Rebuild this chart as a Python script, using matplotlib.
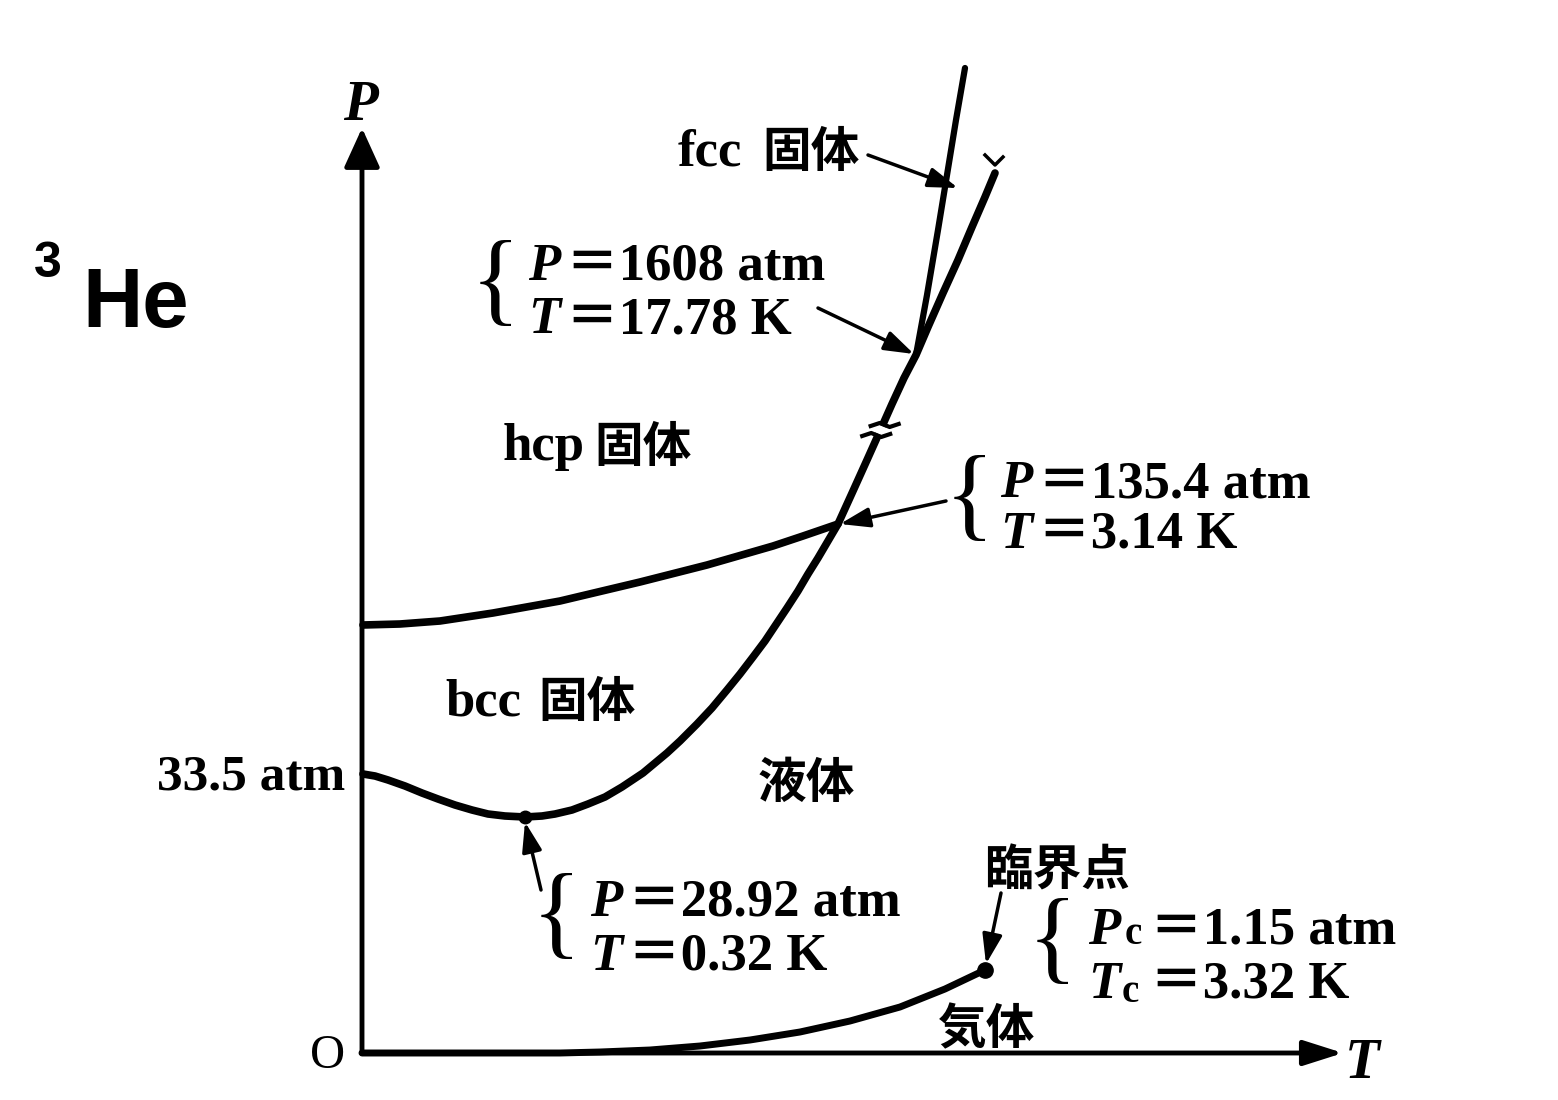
import numpy as np
import matplotlib
matplotlib.use('Agg')
import matplotlib.pyplot as plt

# ---- schematic frame (pixel origin of O, figure size) ----
X0, Y0 = 362, 1053
W, H = 1558, 1100

# ---- data (schematic units: T to the right, P upward, origin at O) ----
# melting curve: bcc/liquid -> hcp/liquid -> upper branch
melt_T = [1, 13, 26, 43, 60, 76, 93, 110, 126, 143, 163,
          180, 193, 210, 226, 243, 260, 281, 305, 318, 335, 350, 365, 378, 391, 403,
          415, 425, 436, 446, 456, 466, 476,
          491, 505, 518, 530, 542, 554, 566, 581, 596, 610, 623, 633]
melt_P = [279, 277, 273, 267, 260, 254, 248, 243, 239, 237, 236,
          237, 239, 243, 249, 256, 266, 280, 300, 312, 329, 345, 363, 379, 396, 412,
          430, 445, 462, 479, 495, 512, 529,
          562, 593, 622, 649, 675, 698, 726, 760, 793, 826, 856, 880]
# bcc/hcp boundary
bh_T = [1, 38, 78, 131, 198, 278, 345, 411, 441, 476]
bh_P = [428, 429, 432, 440, 452, 471, 488, 507, 517, 529]
# hcp/fcc boundary
hf_T = [554, 565, 576, 585, 594, 603]
hf_P = [698, 758, 823, 878, 933, 985]
# vapour pressure curve
vap_T = [0, 198, 238, 288, 338, 388, 438, 488, 538, 583, 623]
vap_P = [0, 0, 1, 3, 7, 13, 21, 32, 46, 64, 83]
# special points
min_pt = (163, 236)      # P=28.92 atm, T=0.32 K
crit_pt = (623, 83)      # Pc=1.15 atm, Tc=3.32 K

SERIF = ['Liberation Serif', 'Noto Sans CJK JP']
CJK = ['Noto Sans CJK JP']

fig = plt.figure(figsize=(W / 100, H / 100), dpi=100, facecolor='white')
ax = fig.add_axes([0, 0, 1, 1])
ax.set_xlim(-X0, W - X0)
ax.set_ylim(-(H - Y0), Y0)
ax.axis('off')


def px(x, y):
    return (x - X0, Y0 - y)


def stxt(x, y, s, size=38, style='normal', weight='bold', ha='left', fam=None):
    ax.text(*px(x, y), s, fontfamily=fam or SERIF, fontsize=size, fontstyle=style,
            fontweight=weight, ha=ha, va='baseline', color='black')


def ctxt(x, y, s, size=35):
    ax.text(*px(x, y), s, fontfamily=CJK, fontsize=size, fontweight='bold',
            ha='left', va='baseline', color='black')


def arrow(tail, head, lw=2.5, scale=20, hl=0.9, hw=0.3):
    ax.annotate('', xy=px(*head), xytext=px(*tail),
                arrowprops=dict(arrowstyle=f'-|>,head_length={hl},head_width={hw}',
                                lw=lw, color='black', shrinkA=0, shrinkB=0,
                                mutation_scale=scale))


def brace(x, y, size=74):
    ax.text(*px(x, y), '{', fontfamily=['Liberation Serif'], fontsize=size,
            ha='center', va='center', color='black')


# ---- axes with arrows ----
ax.annotate('', xy=(0, Y0 - 128), xytext=(0, 0),
            arrowprops=dict(arrowstyle='-|>,head_length=1.1,head_width=0.5', lw=3.5,
                            color='black', shrinkA=0, shrinkB=0, mutation_scale=22))
ax.annotate('', xy=(1343 - X0, 0), xytext=(0, 0),
            arrowprops=dict(arrowstyle='-|>,head_length=1.1,head_width=0.35', lw=3.5,
                            color='black', shrinkA=0, shrinkB=0, mutation_scale=22))

# ---- phase boundaries ----
kw = dict(color='black', solid_capstyle='round', solid_joinstyle='round')
ax.plot(melt_T, melt_P, lw=5.5, **kw)
ax.plot(bh_T, bh_P, lw=5.5, **kw)
ax.plot(hf_T, hf_P, lw=4.5, **kw)
ax.plot(vap_T, vap_P, lw=5, **kw)

# break mark on the melting curve
bp = [619.0, 627.0]
bt = np.interp(bp, melt_P, melt_T)
ax.plot(bt, bp, color='white', lw=9, solid_capstyle='butt')
for p, dx in [(bp[0] - 1, -2), (bp[1] + 1, 2)]:
    t = np.interp(p, melt_P, melt_T) + dx
    ax.plot([t - 14, t - 5, t + 5, t + 14], [p - 1, p + 2, p - 2, p + 1], color='black', lw=3)

# special points
ax.plot(*min_pt, 'o', color='black', ms=9)
ax.plot(*crit_pt, 'o', color='black', ms=11)

# ---- leader arrows ----
arrow((868, 155), (958, 188))
arrow((818, 308), (914, 354))
arrow((946, 501), (840, 524))
arrow((541, 890), (525, 822))
arrow((1001, 893), (986, 964))
# small tick near the end of the melting curve
ax.plot(*zip(px(985, 155), px(995, 165), px(1003, 157)), color='black', lw=2.5)

# ---- labels ----
stxt(343, 120, 'P', size=41, style='italic')
stxt(1345, 1078, 'T', size=41, style='italic')
stxt(345, 1068, 'O', size=35, weight='normal', ha='right')
ax.text(*px(34, 277), '3', fontfamily=['Liberation Sans'], fontsize=36,
        fontweight='bold', ha='left', va='baseline')
ax.text(*px(82, 327), 'He', fontfamily=['Liberation Sans'], fontsize=60,
        fontweight='bold', ha='left', va='baseline')

stxt(678, 166, 'fcc')
ctxt(762, 167, '固体')
stxt(503, 460, 'hcp')
ctxt(594, 462, '固体')
stxt(445, 715, 'bcc')
ctxt(538, 717, '固体')
ctxt(758, 798, '液体')
ctxt(984, 886, '臨界点')
ctxt(938, 1044, '気体')
stxt(345, 790, '33.5 atm', ha='right', size=37)

brace(495, 287)
stxt(528, 280, 'P', style='italic')
stxt(566, 280, '＝1608 atm')
stxt(528, 333, 'T', style='italic')
stxt(566, 333, '＝17.78 K')

brace(969, 502)
stxt(1000, 497, 'P', style='italic')
stxt(1038, 497, '＝135.4 atm')
stxt(1000, 548, 'T', style='italic')
stxt(1038, 548, '＝3.14 K')

brace(556, 920)
stxt(590, 916, 'P', style='italic')
stxt(628, 916, '＝28.92 atm')
stxt(590, 970, 'T', style='italic')
stxt(628, 970, '＝0.32 K')

brace(1052, 945)
stxt(1088, 944, 'P', style='italic')
stxt(1125, 944, 'c', size=28)
stxt(1150, 944, '＝1.15 atm')
stxt(1088, 998, 'T', style='italic')
stxt(1122, 1002, 'c', size=28)
stxt(1150, 998, '＝3.32 K')

fig.savefig('out.png', dpi=100, facecolor='white')
